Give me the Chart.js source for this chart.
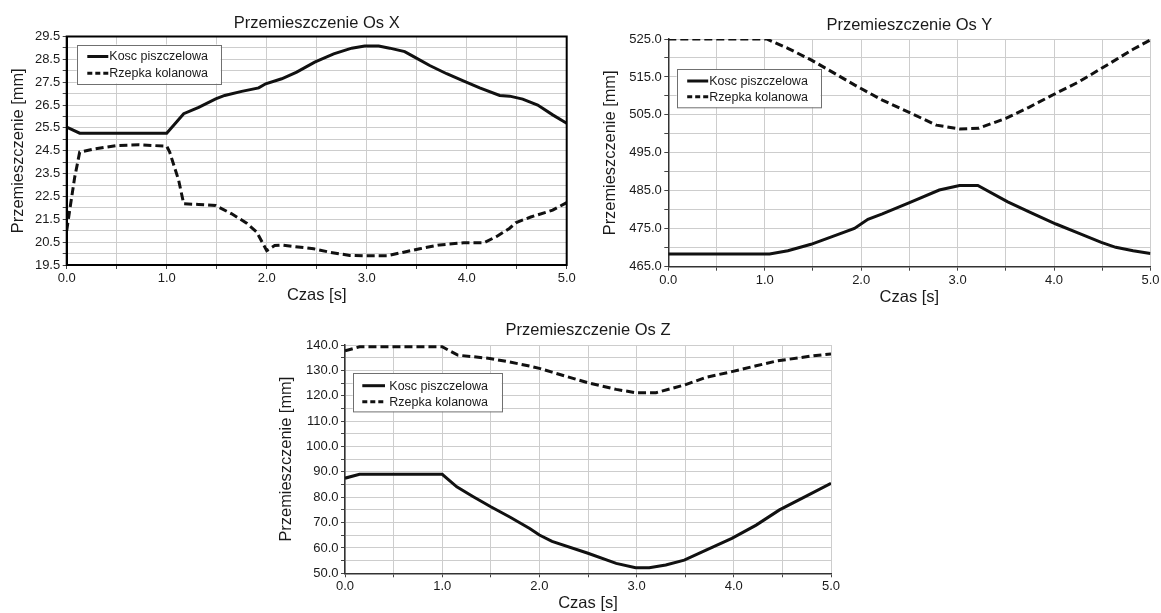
<!DOCTYPE html>
<html>
<head>
<meta charset="utf-8">
<script src="https://cdn.jsdelivr.net/npm/chart.js@4.4.1/dist/chart.umd.min.js"></script>
<style>
  html, body { margin: 0; padding: 0; background: #fff; }
  body { width: 1161px; height: 613px; position: relative; overflow: hidden; }
  canvas { position: absolute; }
</style>
</head>
<body>
<canvas id="chartX" width="580" height="305" style="left:0px;top:0px"></canvas>
<canvas id="chartY" width="571" height="307" style="left:590px;top:0px"></canvas>
<canvas id="chartZ" width="580" height="313" style="left:270px;top:300px"></canvas>
<script>
// ---- data ----
const seriesNames = ['Kosc piszczelowa', 'Rzepka kolanowa'];
const axisTitleX = 'Czas [s]';
const axisTitleY = 'Przemieszczenie [mm]';

// Os X
const xKoscT = [0.00, 0.13, 1.00, 1.17, 1.32, 1.49, 1.58, 1.75, 1.92, 1.99, 2.15, 2.30, 2.48, 2.67, 2.85, 2.98, 3.12, 3.23, 3.38, 3.47, 3.63, 3.80, 3.96, 4.13, 4.33, 4.43, 4.56, 4.71, 4.86, 5.00];
const xKosc  = [25.53, 25.27, 25.27, 26.12, 26.40, 26.77, 26.92, 27.10, 27.25, 27.43, 27.65, 27.94, 28.38, 28.74, 28.99, 29.08, 29.08, 28.99, 28.84, 28.62, 28.23, 27.87, 27.57, 27.25, 26.92, 26.89, 26.76, 26.50, 26.07, 25.70];
const xRzepkaT = [0.00, 0.03, 0.08, 0.13, 0.28, 0.50, 0.72, 1.00, 1.03, 1.12, 1.17, 1.32, 1.49, 1.65, 1.80, 1.90, 2.00, 2.08, 2.15, 2.47, 2.63, 2.83, 2.98, 3.20, 3.37, 3.53, 3.73, 3.97, 4.17, 4.30, 4.43, 4.49, 4.64, 4.86, 5.00];
const xRzepka  = [21.00, 21.90, 23.34, 24.44, 24.58, 24.73, 24.76, 24.70, 24.44, 23.20, 22.18, 22.15, 22.10, 21.74, 21.33, 20.94, 20.13, 20.35, 20.37, 20.21, 20.06, 19.92, 19.90, 19.90, 20.06, 20.21, 20.38, 20.47, 20.47, 20.75, 21.11, 21.35, 21.60, 21.90, 22.23];

// Os Y
const yKoscT = [0.00, 1.05, 1.24, 1.48, 1.72, 1.93, 2.07, 2.22, 2.52, 2.81, 3.02, 3.21, 3.52, 3.77, 4.02, 4.26, 4.49, 4.64, 4.82, 5.00];
const yKosc  = [468.35, 468.35, 469.2, 470.9, 473.1, 475.1, 477.5, 478.9, 482.1, 485.2, 486.4, 486.4, 482.1, 479.1, 476.25, 473.8, 471.4, 470.1, 469.2, 468.5];
const yRzepkaT = [0.00, 1.02, 1.24, 1.48, 1.72, 1.93, 2.22, 2.52, 2.78, 3.02, 3.22, 3.50, 3.74, 4.02, 4.26, 4.56, 4.82, 5.00];
const yRzepka  = [525.0, 525.0, 522.55, 519.5, 516.0, 512.9, 508.9, 505.4, 502.3, 501.3, 501.5, 504.1, 507.0, 510.7, 513.75, 518.3, 522.3, 524.75];

// Os Z
const zKoscT = [0.00, 0.15, 1.00, 1.15, 1.32, 1.50, 1.70, 1.90, 2.00, 2.13, 2.50, 2.79, 2.99, 3.13, 3.30, 3.49, 3.72, 3.98, 4.23, 4.47, 4.75, 5.00];
const zKosc  = [87.5, 89.0, 89.0, 84.1, 80.2, 76.25, 72.1, 67.7, 65.1, 62.6, 57.9, 53.9, 52.2, 52.2, 53.3, 55.2, 59.2, 63.8, 69.0, 75.0, 80.5, 85.5];
const zRzepkaT = [0.00, 0.15, 1.00, 1.16, 1.31, 1.49, 1.68, 1.90, 2.00, 2.13, 2.50, 2.79, 2.99, 3.20, 3.49, 3.72, 3.98, 4.23, 4.44, 4.79, 5.00];
const zRzepka  = [137.7, 139.3, 139.3, 136.0, 135.4, 134.7, 133.4, 131.7, 130.8, 129.3, 125.1, 122.5, 121.2, 121.2, 124.2, 127.3, 129.5, 131.8, 133.7, 135.6, 136.5];

// ---- drawing ----
const FONT = '"Liberation Sans", Arial, sans-serif';
const INK = '#1a1a1a';
Chart.defaults.font.family = FONT;
Chart.defaults.color = INK;

function pts(ts, vs) {
  return ts.map((t, i) => ({ x: t, y: vs[i] }));
}

// legend box drawn inside the plot area
const boxLegend = {
  id: 'boxLegend',
  afterDraw(chart, args, o) {
    const ctx = chart.ctx;
    const a = chart.chartArea;
    const x = a.left + o.dx, y = a.top + o.dy;
    ctx.save();
    ctx.fillStyle = '#fff';
    ctx.fillRect(x, y, o.w, o.h);
    ctx.strokeStyle = '#707070';
    ctx.lineWidth = 1;
    ctx.strokeRect(Math.round(x) + 0.5, Math.round(y) + 0.5, o.w, o.h);
    ctx.font = '12.5px ' + FONT;
    ctx.textBaseline = 'middle';
    ctx.fillStyle = INK;
    chart.data.datasets.forEach((ds, i) => {
      const ry = y + o.rows[i];
      ctx.beginPath();
      ctx.setLineDash(ds.borderDash && ds.borderDash.length ? [5, 3] : []);
      ctx.lineWidth = 3;
      ctx.strokeStyle = ds.borderColor;
      ctx.moveTo(x + o.sx, ry);
      ctx.lineTo(x + o.sx + o.sl, ry);
      ctx.stroke();
      ctx.setLineDash([]);
      ctx.fillText(ds.label, x + o.tx, ry + 0.5);
    });
    ctx.restore();
  }
};

// full frame around the plot (used by the first chart)
const frame = {
  id: 'frame',
  afterDatasetsDraw(chart, args, o) {
    if (!o.show) return;
    const a = chart.chartArea;
    const ctx = chart.ctx;
    ctx.save();
    ctx.strokeStyle = '#000';
    ctx.lineWidth = 2;
    ctx.strokeRect(a.left, a.top, a.right - a.left, a.bottom - a.top);
    ctx.restore();
  }
};

function makeChart(id, cfg) {
  const datasets = [
    {
      label: seriesNames[0],
      data: pts(cfg.t1, cfg.v1),
      borderColor: '#111',
      borderWidth: 3,
      borderDash: [],
      pointRadius: 0,
      tension: 0
    },
    {
      label: seriesNames[1],
      data: pts(cfg.t2, cfg.v2),
      borderColor: '#111',
      borderWidth: 3,
      borderDash: [8, 4],
      pointRadius: 0,
      tension: 0
    }
  ];
  return new Chart(document.getElementById(id), {
    type: 'line',
    data: { datasets },
    plugins: [boxLegend, frame],
    options: {
      responsive: false,
      animation: false,
      devicePixelRatio: 1,
      layout: { padding: { left: 0, right: cfg.padRight, top: 0, bottom: 0 } },
      plugins: {
        legend: { display: false },
        tooltip: { enabled: false },
        title: {
          display: true,
          fullSize: false,
          text: cfg.title,
          font: { size: 16.5, weight: 'normal' },
          color: INK,
          padding: { top: cfg.titleTop, bottom: cfg.titleBottom }
        },
        boxLegend: cfg.legend,
        frame: { show: cfg.frame }
      },
      scales: {
        x: {
          type: 'linear',
          min: 0,
          max: 5,
          afterFit: s => { s.height = cfg.xAxisH; },
          ticks: {
            stepSize: 0.5,
            padding: 1.5,
            maxRotation: 0,
            autoSkip: false,
            font: { size: 13 },
            color: INK,
            callback: v => (Math.abs(v - Math.round(v)) < 1e-6 ? v.toFixed(1) : '')
          },
          grid: { color: '#cdcdcd', lineWidth: 1, tickLength: 4, tickColor: '#444' },
          border: { color: cfg.frame ? '#000' : '#333', width: cfg.frame ? 2 : 1.5 },
          title: {
            display: true,
            text: axisTitleX,
            font: { size: 16.5 },
            color: INK,
            padding: { top: 0, bottom: 0 }
          }
        },
        y: {
          min: cfg.yMin,
          max: cfg.yMax,
          afterFit: s => { s.width = cfg.yAxisW; },
          ticks: {
            stepSize: cfg.yStep,
            padding: 2.5,
            autoSkip: false,
            font: { size: 13 },
            color: INK,
            callback: v => {
              const k = (v - cfg.yMin) / cfg.yLabelStep;
              return Math.abs(k - Math.round(k)) < 1e-6 ? v.toFixed(1) : '';
            }
          },
          grid: { color: '#cdcdcd', lineWidth: 1, tickLength: 4, tickColor: '#444' },
          border: { color: cfg.frame ? '#000' : '#333', width: cfg.frame ? 2 : 1.5 },
          title: {
            display: true,
            text: axisTitleY,
            font: { size: 16.4 },
            color: INK,
            padding: { top: cfg.yTitlePad, bottom: 0 }
          }
        }
      }
    }
  });
}

makeChart('chartX', {
  title: 'Przemieszczenie Os X',
  t1: xKoscT, v1: xKosc, t2: xRzepkaT, v2: xRzepka,
  yMin: 19.5, yMax: 29.5, yStep: 0.5, yLabelStep: 1,
  yAxisW: 66.7, xAxisH: 40, padRight: 13.3,
  titleTop: 13.4, titleBottom: 3.3, yTitlePad: 8.5,
  frame: true,
  legend: { dx: 10, dy: 8, w: 144, h: 39, sx: 10.6, sl: 21, tx: 32.6, rows: [12, 28.7] }
});

makeChart('chartY', {
  title: 'Przemieszczenie Os Y',
  t1: yKoscT, v1: yKosc, t2: yRzepkaT, v2: yRzepka,
  yMin: 465, yMax: 525, yStep: 5, yLabelStep: 10,
  yAxisW: 78.3, xAxisH: 40.3, padRight: 9.2,
  titleTop: 15.1, titleBottom: 4.1, yTitlePad: 10.9,
  frame: false,
  legend: { dx: 8.3, dy: 30, w: 144, h: 38.3, sx: 10.6, sl: 21, tx: 32.6, rows: [12, 27.7] }
});

makeChart('chartZ', {
  title: 'Przemieszczenie Os Z',
  t1: zKoscT, v1: zKosc, t2: zRzepkaT, v2: zRzepka,
  yMin: 50, yMax: 140, yStep: 5, yLabelStep: 10,
  yAxisW: 75, xAxisH: 39.7, padRight: 19,
  titleTop: 20.1, titleBottom: 5.1, yTitlePad: 6.6,
  frame: false,
  legend: { dx: 7.7, dy: 28.3, w: 149, h: 38.4, sx: 9.6, sl: 22.7, tx: 36.6, rows: [12.4, 28.4] }
});
</script>
</body>
</html>
